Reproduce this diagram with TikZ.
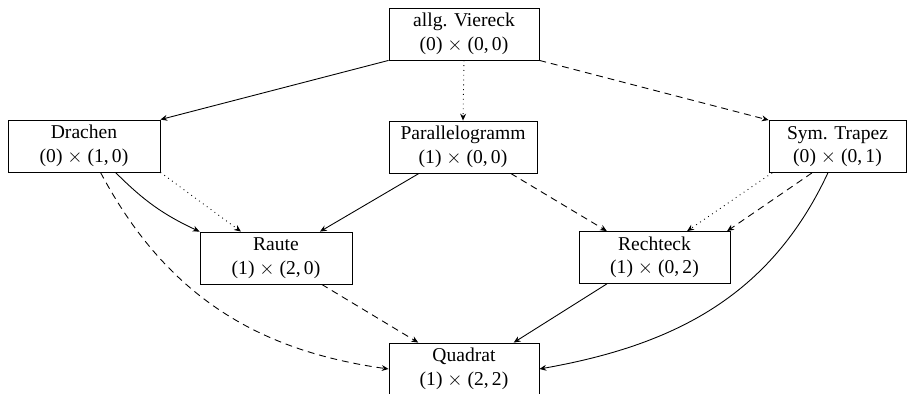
\documentclass[tikz,border=0pt]{standalone}
\usepackage{fontspec}
\setmainfont{Liberation Serif}
\usetikzlibrary{arrows.meta}
\begin{document}
\begin{tikzpicture}[x=0.511pt,y=-0.511pt,
  box/.style={draw, align=center, minimum width=76.7pt, minimum height=26.6pt, inner sep=2pt, font=\fontsize{10}{12}\selectfont},
  arr/.style={-{Stealth[length=3.5pt,width=3pt]}, line width=0.45pt},
  dot/.style={arr, dotted},
  dsh/.style={arr, dash pattern=on 3.5pt off 2.5pt}]
\useasboundingbox (0,0) rectangle (908,394);
\clip (0,0) rectangle (908,394);
\node[box] (V) at (464,34) {allg. Viereck\\(0) $\times$ (0,\,0)};
\node[box, minimum width=77.7pt] (D) at (84,146) {Drachen\\(0) $\times$ (1,\,0)};
\node[box, minimum width=75.6pt] (P) at (463,147) {Parallelogramm\\(1) $\times$ (0,\,0)};
\node[box, minimum width=70pt] (T) at (837.5,146.5) {Sym. Trapez\\(0) $\times$ (0,\,1)};
\node[box, minimum width=77.7pt] (R) at (276,258) {Raute\\(1) $\times$ (2,\,0)};
\node[box, minimum width=77.2pt] (Re) at (654.5,257.5) {Rechteck\\(1) $\times$ (0,\,2)};
\node[box] (Q) at (464,369) {Quadrat\\(1) $\times$ (2,\,2)};
% from allg. Viereck
\draw[arr] (V.south west) -- (D.north east);
\draw[dot] (V.south) -- (P.north);
\draw[dsh] (V.south east) -- (T.north west);
% from Drachen
\draw[arr] (D.-40) to[out=-45, in=155] (R.north west);
\draw[dot] (D.south east) -- (R.143);
\draw[dsh] (D.-58) to[out=-62, in=172] (Q.west);
% from Parallelogramm
\draw[arr] (P.-149) -- (R.31);
\draw[dsh] (P.-29) -- (Re.151);
% from Sym. Trapez
\draw[dot] (T.-158) -- (Re.39);
\draw[dsh] (T.-134) -- (Re.20);
\draw[arr] (T.-110) to[out=-115, in=10] (Q.east);
% to Quadrat
\draw[dsh] (R.-30) -- (Q.150);
\draw[arr] (Re.-151) -- (Q.28);
\end{tikzpicture}
\end{document}
